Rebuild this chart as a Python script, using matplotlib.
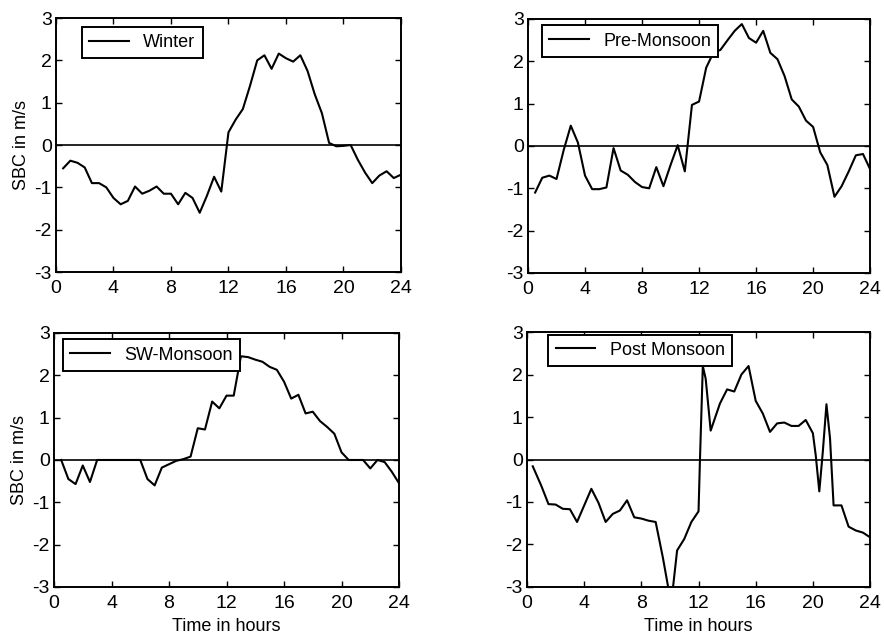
# Sea breeze component (SBC) diurnal cycle by season
import numpy as np
import matplotlib
matplotlib.use('Agg')
import matplotlib.pyplot as plt

plt.rcParams['font.family'] = ['Liberation Sans', 'DejaVu Sans']
plt.rcParams['axes.unicode_minus'] = False

hours = np.arange(0.5, 24.01, 0.5)

winter = [-0.55, -0.37, -0.42, -0.53, -0.9, -0.9, -1.0, -1.25, -1.4, -1.32,
          -0.98, -1.15, -1.08, -0.98, -1.15, -1.15, -1.4, -1.13, -1.25, -1.6,
          -1.2, -0.75, -1.1, 0.3, 0.6, 0.85, 1.4, 2.0, 2.12, 1.8,
          2.16, 2.05, 1.97, 2.12, 1.75, 1.2, 0.75, 0.05, -0.03, -0.02,
          0.0, -0.35, -0.65, -0.9, -0.72, -0.62, -0.78, -0.7]

pre_monsoon = [-1.1, -0.75, -0.7, -0.78, -0.1, 0.48, 0.08, -0.7, -1.02, -1.02,
               -0.98, -0.05, -0.58, -0.68, -0.85, -0.97, -1.0, -0.5, -0.95, -0.45,
               0.02, -0.6, 0.97, 1.05, 1.85, 2.2, 2.27, 2.5, 2.72, 2.88,
               2.55, 2.44, 2.72, 2.2, 2.05, 1.65, 1.1, 0.93, 0.6, 0.45,
               -0.15, -0.45, -1.2, -0.95, -0.6, -0.22, -0.19, -0.55]

sw_monsoon = [0.0, -0.45, -0.57, -0.13, -0.52, 0.0, 0.0, 0.0, 0.0, 0.0,
              0.0, 0.0, -0.45, -0.6, -0.18, -0.1, -0.02, 0.02, 0.08, 0.75,
              0.72, 1.38, 1.22, 1.52, 1.52, 2.45, 2.43, 2.37, 2.32, 2.2,
              2.13, 1.85, 1.45, 1.54, 1.1, 1.14, 0.92, 0.78, 0.62, 0.18,
              0.0, 0.0, 0.0, -0.2, 0.0, -0.05, -0.28, -0.55]

post_hours = [0.4, 1.0, 1.5, 2.0, 2.5, 3.0, 3.5, 4.0, 4.5, 5.0,
              5.5, 6.0, 6.5, 7.0, 7.5, 8.0, 8.5, 9.0, 9.5, 9.9,
              10.2, 10.5, 11.0, 11.5, 12.0, 12.1, 12.3, 12.5, 12.85, 13.5,
              14.0, 14.5, 15.0, 15.5, 16.0, 16.5, 17.0, 17.5, 18.0, 18.5,
              19.0, 19.5, 20.0, 20.2, 20.45, 20.7, 20.95, 21.2, 21.45, 22.0,
              22.5, 23.0, 23.5, 24.0]
post_monsoon = [-0.16, -0.62, -1.05, -1.06, -1.16, -1.17, -1.47, -1.08, -0.69, -1.02,
                -1.47, -1.28, -1.2, -0.96, -1.36, -1.39, -1.44, -1.47, -2.3, -3.05,
                -3.05, -2.14, -1.87, -1.47, -1.22, 0.0, 2.2, 1.9, 0.68, 1.32,
                1.65, 1.6, 2.0, 2.2, 1.38, 1.08, 0.65, 0.85, 0.87, 0.79,
                0.79, 0.93, 0.62, 0.1, -0.75, 0.2, 1.3, 0.5, -1.08, -1.08,
                -1.58, -1.67, -1.72, -1.83]

panels = [
    # x, y, label, axes rect, legend anchor
    (hours, winter, 'Winter', [0.0633, 0.5743, 0.3903, 0.3975], (0.075, 0.965)),
    (hours, pre_monsoon, 'Pre-Monsoon', [0.5973, 0.5728, 0.3870, 0.3975], (0.04, 0.975)),
    (hours, sw_monsoon, 'SW-Monsoon', [0.0611, 0.0814, 0.3903, 0.3975], (0.025, 0.975)),
    (post_hours, post_monsoon, 'Post Monsoon', [0.5962, 0.0814, 0.3880, 0.3990], (0.062, 0.99)),
]

fig = plt.figure(figsize=(8.84, 6.39), dpi=100)

for i, (x, y, name, rect, anchor) in enumerate(panels):
    ax = fig.add_axes(rect)
    ax.plot(x, y, color='black', lw=1.5, label=name)
    ax.axhline(0, color='black', lw=1.2)
    ax.set_xlim(0, 24)
    ax.set_ylim(-3, 3)
    ax.set_xticks([0, 4, 8, 12, 16, 20, 24])
    ax.set_yticks([-3, -2, -1, 0, 1, 2, 3])
    ax.tick_params(direction='in', top=True, right=True, length=4, width=1,
                   labelsize=14)
    ax.tick_params(axis='x', pad=6)
    ax.tick_params(axis='y', pad=3)
    for s in ax.spines.values():
        s.set_linewidth(1.4)
    if i % 2 == 0:
        ax.set_ylabel('SBC in m/s', fontsize=13, labelpad=3)
    if i >= 2:
        ax.set_xlabel('Time in hours', fontsize=13, labelpad=4)
    leg = ax.legend(loc='upper left', bbox_to_anchor=anchor, fontsize=13,
                    fancybox=False, framealpha=1, edgecolor='black',
                    handlelength=2.2, borderpad=0.4, handletextpad=0.8,
                    borderaxespad=0)
    leg.get_frame().set_linewidth(1.4)

fig.savefig('out.png', dpi=100)
